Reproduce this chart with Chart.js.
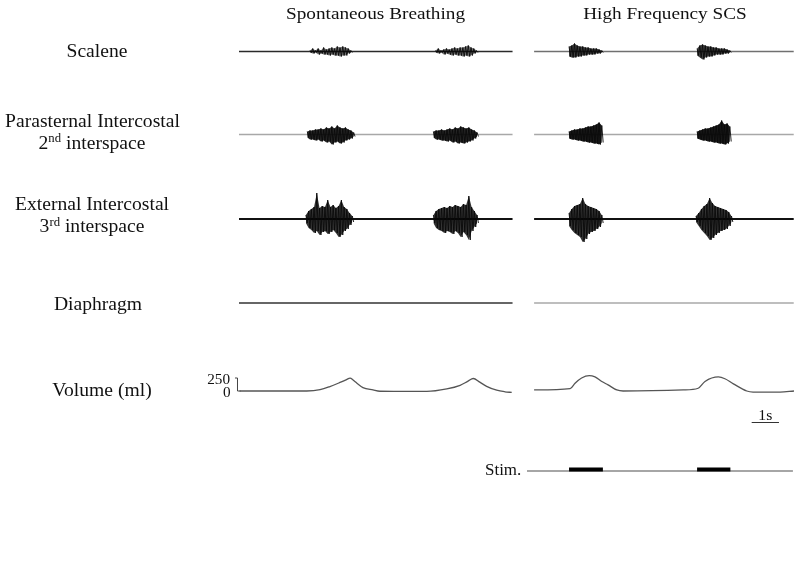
<!DOCTYPE html>
<html><head><meta charset="utf-8">
<script src="https://cdn.jsdelivr.net/npm/chart.js@4.4.1/dist/chart.umd.min.js"></script>
<style>html,body{margin:0;padding:0;background:#fff}#wrap{width:800px;height:561px;position:relative}</style>
</head><body><div id="wrap"><canvas id="c" width="800" height="561"></canvas></div>
<script>
// ================= DATA =================
const panelTitles = ["Spontaneous Breathing", "High Frequency SCS"];
const rowLabels = ["Scalene", "Parasternal Intercostal", "External Intercostal", "Diaphragm", "Volume (ml)"];
const volumeTicks = [250, 0];          // ml calibration bracket
const scaleBarSeconds = 1;             // "1s" bar
const stimLabel = "Stim.";

// recording windows (s)
const recordingSB  = [0, 10.02];
const recordingHFS = [0.26, 9.77];
const stimRecording = [0, 9.74];

// EMG max/min per 0.1 s window from burst onset (arbitrary units)
const envStep = 0.1;
const scaleneSB_onsets = [2.6, 7.2];
const scaleneSB_up = [[1,3,1,3,1,4,2,3,4,3,5,4,5,4,3,1],[1,3,1,2,3,2,3,4,3,4,4,5,6,4,3,1]];
const scaleneSB_lo = [[1,2,1,3,2,3,3,4,3,4,4,5,4,4,2,1],[1,2,1,3,2,3,4,3,4,4,5,4,5,4,2,1]];
const scaleneHFS_onsets = [1.54, 6.23];
const scaleneHFS_up = [[5,6,8,6,5,5,4,4,3,3,3,2,1],[3,6,7,6,5,5,4,4,3,3,3,2,1]];
const scaleneHFS_lo = [[5,6,6,5,5,4,4,3,3,3,2,2,1],[4,6,8,6,5,5,4,3,3,3,2,2,1]];

const paraSB_onsets = [2.5, 7.12];
const paraSB_up = [[3,4,4,5,5,6,5,7,6,8,6,9,7,6,7,5,4,2],[3,4,4,5,4,5,6,5,7,6,8,7,6,7,5,4,2]];
const paraSB_lo = [[3,5,5,6,5,7,6,8,7,10,8,7,9,8,6,5,4,2],[3,5,5,6,6,7,6,8,7,9,8,9,8,7,6,4,2]];
const paraHFS_onsets = [1.54, 6.23];
const paraHFS_up = [[3,4,5,5,6,6,7,8,8,9,10,12,9],[3,4,5,6,6,7,8,9,10,14,10,11,8]];
const paraHFS_lo = [[4,5,5,6,6,7,7,8,8,9,9,10,8],[4,5,6,6,7,7,8,8,9,9,10,9,7]];

const extSB_onsets = [2.45, 7.12];
const extSB_up = [[4,8,10,12,26,11,13,12,19,12,14,11,13,19,12,10,6,3],[4,8,10,11,12,11,13,12,14,13,12,15,14,23,12,8,4]];
const extSB_lo = [[4,9,11,14,12,16,13,12,15,13,11,14,18,16,12,10,6,3],[4,9,11,12,14,12,13,15,12,14,18,13,16,21,12,8,4]];
const extHFS_onsets = [1.54, 6.19];
const extHFS_up = [[6,10,13,14,15,21,15,13,12,11,10,8,4],[3,6,10,13,15,21,16,13,12,11,10,9,7,3]];
const extHFS_lo = [[7,11,14,16,18,23,20,15,13,12,10,8,4],[3,7,11,14,17,21,19,16,14,12,11,10,7,3]];

// Volume (ml) vs time (s)
const volumeSB_t  = [0.02,2.48,2.97,3.33,3.70,3.92,4.07,4.18,4.32,4.54,4.91,5.16,5.90,6.88,7.61,8.10,8.39,8.58,8.82,9.07,9.44,9.74,9.99];
const volumeSB_ml = [0,0,25,85,164,215,248,210,150,66,20,-5,-8,-8,40,110,190,240,170,90,15,-15,-28];
const volumeHFS_t  = [0.26,1.58,1.76,2.00,2.28,2.49,2.74,2.97,3.29,3.52,5.73,6.27,6.52,7.01,7.25,7.56,8.05,8.28,9.27,9.78];
const volumeHFS_ml = [20,45,150,250,295,270,183,118,20,0,20,53,183,270,236,138,0,-20,-20,0];

// stimulation on/off (s)
const stimOn  = [1.54, 6.23];
const stimOff = [2.78, 7.45];

// ================= LAYOUT =================
const W = 800, H = 561;
const pxPerSec = 27.3;
const panelX0 = {xL: 239, xR: 527};
const rows = {
  yScal: {base: 51.5, k: 1},
  yPara: {base: 134.5, k: 1},
  yExt:  {base: 219, k: 1},
  yDia:  {base: 303, k: 1},
  yVol:  {base: 391, k: 13/250},
  yStim: {base: 471, k: 1}
};
const SERIF = '"Liberation Serif", "Times New Roman", serif';

const scales = {};
for (const id in panelX0) {
  scales[id] = {type: 'linear', axis: 'x', display: false,
    min: -panelX0[id]/pxPerSec, max: (W - panelX0[id])/pxPerSec};
}
for (const id in rows) {
  const r = rows[id];
  scales[id] = {type: 'linear', axis: 'y', display: false,
    min: -(H - r.base)/r.k, max: r.base/r.k};
}

const datasets = [];
function lineDs(xId, yId, pts, color, width, extra) {
  datasets.push(Object.assign({
    data: pts, xAxisID: xId, yAxisID: yId, borderColor: color, borderWidth: width,
    pointRadius: 0, fill: false, tension: 0, order: 10
  }, extra || {}));
}
function flat(range) { return [{x: range[0], y: 0}, {x: range[1], y: 0}]; }
function bursts(xId, yId, onsets, ups, los, fillCol) {
  onsets.forEach((t0, i) => {
    const up = ups[i].map((v, j) => ({x: t0 + j*envStep, y: v}));
    const lo = los[i].map((v, j) => ({x: t0 + j*envStep, y: -v}));
    // envelope core
    datasets.push({data: up, xAxisID: xId, yAxisID: yId, borderColor: 'rgba(0,0,0,0)', borderWidth: 0,
      pointRadius: 0, fill: false, tension: 0, order: 2});
    datasets.push({data: lo, xAxisID: xId, yAxisID: yId, borderColor: 'rgba(0,0,0,0)', borderWidth: 0,
      pointRadius: 0, fill: '-1', backgroundColor: fillCol, tension: 0, order: 2});
    // max/min trace (oscilloscope style)
    const zz = [];
    ups[i].forEach((v, j) => {
      zz.push({x: t0 + j*envStep, y: v});
      zz.push({x: t0 + (j + 0.5)*envStep, y: -los[i][j]});
    });
    datasets.push({data: zz, xAxisID: xId, yAxisID: yId, borderColor: '#0a0a0a', borderWidth: 0.9,
      pointRadius: 0, fill: false, tension: 0, order: 1});
  });
}

// baselines
lineDs('xL', 'yScal', flat(recordingSB), '#2a2a2a', 1.5);
lineDs('xR', 'yScal', flat(recordingHFS), '#707070', 1.4);
lineDs('xL', 'yPara', flat(recordingSB), '#a8a8a8', 1.5);
lineDs('xR', 'yPara', flat(recordingHFS), '#a8a8a8', 1.5);
lineDs('xL', 'yExt', flat(recordingSB), '#111', 1.8);
lineDs('xR', 'yExt', flat(recordingHFS), '#111', 1.8);
lineDs('xL', 'yDia', flat(recordingSB), '#333', 1.5);
lineDs('xR', 'yDia', flat(recordingHFS), '#a8a8a8', 1.3);
// EMG bursts
bursts('xL', 'yScal', scaleneSB_onsets, scaleneSB_up, scaleneSB_lo, 'rgba(0,0,0,0.55)');
bursts('xR', 'yScal', scaleneHFS_onsets, scaleneHFS_up, scaleneHFS_lo, 'rgba(0,0,0,0.75)');
bursts('xL', 'yPara', paraSB_onsets, paraSB_up, paraSB_lo, 'rgba(0,0,0,0.85)');
bursts('xR', 'yPara', paraHFS_onsets, paraHFS_up, paraHFS_lo, 'rgba(0,0,0,0.9)');
bursts('xL', 'yExt', extSB_onsets, extSB_up, extSB_lo, 'rgba(0,0,0,0.8)');
bursts('xR', 'yExt', extHFS_onsets, extHFS_up, extHFS_lo, 'rgba(0,0,0,0.8)');
// volume
lineDs('xL', 'yVol', volumeSB_t.map((t, i) => ({x: t, y: volumeSB_ml[i]})), '#555', 1.3, {cubicInterpolationMode: 'monotone'});
lineDs('xR', 'yVol', volumeHFS_t.map((t, i) => ({x: t, y: volumeHFS_ml[i]})), '#555', 1.3, {cubicInterpolationMode: 'monotone'});
// stimulation
lineDs('xR', 'yStim', flat(stimRecording), '#888', 1.5);
stimOn.forEach((t, i) => lineDs('xR', 'yStim', [{x: t, y: 1.5}, {x: stimOff[i], y: 1.5}], '#000', 4, {order: 0, borderCapStyle: 'butt'}));

// ================= TEXT / ANNOTATIONS =================
function txt(ctx, parts, x, y, align, sx) {
  ctx.save();
  let w = 0;
  parts.forEach(p => { ctx.font = p.s + 'px ' + SERIF; p.w = ctx.measureText(p.t).width * sx; w += p.w; });
  let left = align === 'center' ? x - w/2 : align === 'right' ? x - w : x;
  ctx.fillStyle = '#111';
  ctx.textBaseline = 'alphabetic';
  ctx.textAlign = 'left';
  parts.forEach(p => {
    ctx.save();
    ctx.font = p.s + 'px ' + SERIF;
    ctx.translate(left, y + (p.dy || 0));
    ctx.scale(sx, 1);
    ctx.fillText(p.t, 0, 0);
    ctx.restore();
    left += p.w;
  });
  ctx.restore();
}
const annot = {
  id: 'annot',
  afterDraw(chart) {
    const ctx = chart.ctx, s = chart.scales;
    txt(ctx, [{t: panelTitles[0], s: 17.5}], 375.5, 19, 'center', 1.1);
    txt(ctx, [{t: panelTitles[1], s: 17.5}], 665, 19, 'center', 1.1);
    const L = 18.5, SX = 1.06;
    txt(ctx, [{t: rowLabels[0], s: L}], 97, 57, 'center', SX);
    txt(ctx, [{t: rowLabels[1], s: L}], 92.5, 126.5, 'center', SX);
    txt(ctx, [{t: '2', s: L}, {t: 'nd', s: 12, dy: -6.5}, {t: ' interspace', s: L}], 92, 148.5, 'center', SX);
    txt(ctx, [{t: rowLabels[2], s: L}], 92, 210, 'center', SX);
    txt(ctx, [{t: '3', s: L}, {t: 'rd', s: 12, dy: -6.5}, {t: ' interspace', s: L}], 92, 232, 'center', SX);
    txt(ctx, [{t: rowLabels[3], s: L}], 98, 309.5, 'center', SX);
    txt(ctx, [{t: rowLabels[4], s: L}], 102, 395.5, 'center', SX);
    // volume calibration
    const yV = s.yVol, xL = s.xL;
    const y250 = yV.getPixelForValue(volumeTicks[0]), y0 = yV.getPixelForValue(volumeTicks[1]);
    txt(ctx, [{t: String(volumeTicks[0]), s: 14.5}], 230, y250 + 5.5, 'right', 1.05);
    txt(ctx, [{t: String(volumeTicks[1]), s: 14.5}], 230.5, y0 + 5.5, 'right', 1.05);
    ctx.save();
    ctx.strokeStyle = '#444'; ctx.lineWidth = 1;
    const bx = xL.getPixelForValue(-0.055);
    ctx.beginPath();
    ctx.moveTo(bx - 2.5, y250); ctx.lineTo(bx, y250); ctx.lineTo(bx, y0); ctx.lineTo(bx + 3, y0);
    ctx.stroke();
    // time scale bar
    const xR = s.xR;
    const sb0 = xR.getPixelForValue(8.23), sb1 = xR.getPixelForValue(8.23 + scaleBarSeconds);
    ctx.strokeStyle = '#333';
    ctx.beginPath(); ctx.moveTo(sb0, 422.5); ctx.lineTo(sb1, 422.5); ctx.stroke();
    ctx.restore();
    txt(ctx, [{t: scaleBarSeconds + 's', s: 15}], (sb0 + sb1)/2, 420, 'center', 1.05);
    txt(ctx, [{t: stimLabel, s: 16}], 485, 475, 'left', 1.06);
  }
};

new Chart(document.getElementById('c'), {
  type: 'line',
  data: {datasets},
  options: {
    responsive: false, animation: false,
    layout: {padding: 0},
    plugins: {legend: {display: false}, tooltip: {enabled: false}, title: {display: false}},
    scales: scales
  },
  plugins: [annot]
});
</script></body></html>
